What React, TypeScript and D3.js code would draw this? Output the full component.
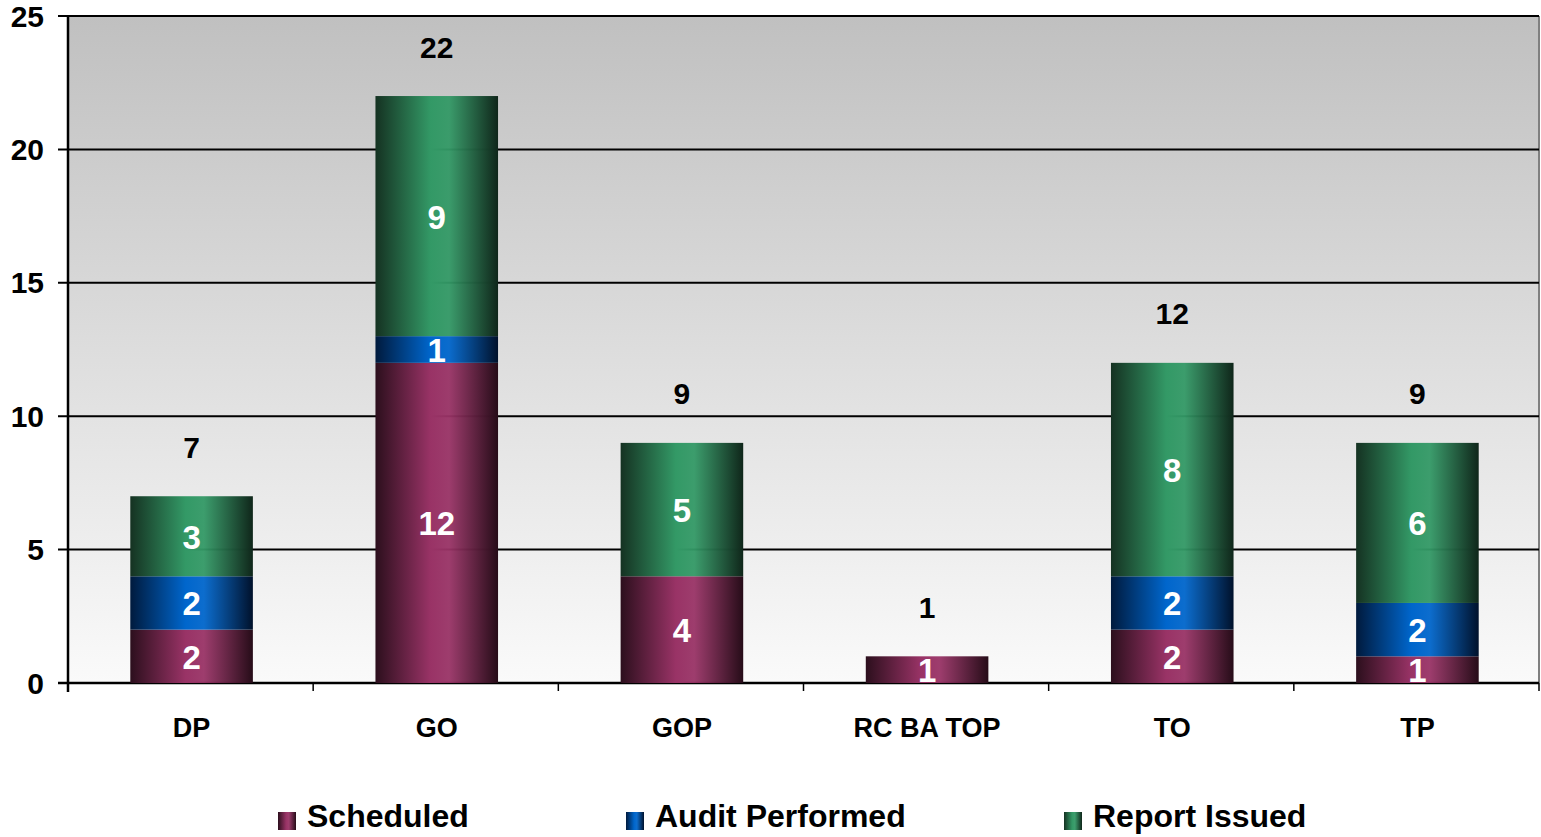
import React from "react";
import * as d3 from "d3";

const categories = ["DP", "GO", "GOP", "RC BA TOP", "TO", "TP"];
const scheduled = [2, 12, 4, 1, 2, 1];
const auditPerformed = [2, 1, 0, 0, 2, 2];
const reportIssued = [3, 9, 5, 0, 8, 6];
const seriesNames = ["Scheduled", "Audit Performed", "Report Issued"];
const yTicks = [0, 5, 10, 15, 20, 25];

const W = 1541;
const H = 837;
const M = { left: 68, right: 1539, top: 16, bottom: 683 };
const FONT = "'Liberation Sans', Arial, Helvetica, sans-serif";

const palette = [
  { id: "gSched", edgeL: "#2c0f1d", mid: "#993366", edgeR: "#260c18" },
  { id: "gAudit", edgeL: "#001a3d", mid: "#0066cc", edgeR: "#00112b" },
  { id: "gReport", edgeL: "#153222", mid: "#339966", edgeR: "#0f261a" },
];

export default function App() {
  const x = d3.scaleBand<string>().domain(categories).range([M.left, M.right]).paddingInner(0.5).paddingOuter(0.25);
  const xb = d3.scaleBand<string>().domain(categories).range([M.left, M.right]);
  const y = d3.scaleLinear().domain([0, 25]).range([M.bottom, M.top]);

  const rows = categories.map((c, i) => ({
    cat: c,
    Scheduled: scheduled[i],
    "Audit Performed": auditPerformed[i],
    "Report Issued": reportIssued[i],
  }));
  const stack = d3.stack<any>().keys(seriesNames)(rows);
  const totals = categories.map((_, i) => scheduled[i] + auditPerformed[i] + reportIssued[i]);

  const legendX = [278, 626, 1064];
  const bx = (c: string) => x(c)! + 1;

  return (
    <svg width={W} height={H} style={{ position: "absolute", left: 0, top: 0, background: "#fff" }}>
      <defs>
        <linearGradient id="plotBg" x1="0" y1="0" x2="0" y2="1">
          <stop offset="0%" stopColor="#c0c0c0" />
          <stop offset="100%" stopColor="#fafafa" />
        </linearGradient>
        {palette.map((p) => (
          <linearGradient key={p.id} id={p.id} x1="0" y1="0" x2="1" y2="0">
            <stop offset="0%" stopColor={p.edgeL} />
            <stop offset="45%" stopColor={p.mid} />
            <stop offset="60%" stopColor={p.mid} stopOpacity={0.95} />
            <stop offset="100%" stopColor={p.edgeR} />
          </linearGradient>
        ))}
      </defs>

      <rect x={M.left} y={M.top} width={M.right - M.left} height={M.bottom - M.top} fill="url(#plotBg)" />
      <line x1={M.right} x2={M.right} y1={M.top} y2={M.bottom} stroke="#808080" strokeWidth={2} />

      {yTicks.map((t) => (
        <g key={t}>
          <line x1={M.left - 10} x2={M.right} y1={y(t)} y2={y(t)} stroke="#000" strokeWidth={t === 0 ? 2.5 : 2} />
          <text x={44} y={y(t)} textAnchor="end" dominantBaseline="central" fontFamily={FONT} fontWeight="bold" fontSize={30}>
            {t}
          </text>
        </g>
      ))}

      {categories.map((c) => (
        <line key={c} x1={xb(c)!} x2={xb(c)!} y1={M.bottom} y2={M.bottom + 8} stroke="#000" strokeWidth={1.5} />
      ))}
      <line x1={M.right} x2={M.right} y1={M.bottom} y2={M.bottom + 8} stroke="#000" strokeWidth={1.5} />

      {stack.map((s, si) => (
        <g key={s.key}>
          {s.map((d, i) => {
            const v = d[1] - d[0];
            if (v <= 0) return null;
            const cx = bx(categories[i]) + x.bandwidth() / 2;
            return (
              <g key={i}>
                <rect x={bx(categories[i])} y={y(d[1])} width={x.bandwidth()} height={y(d[0]) - y(d[1])} fill={`url(#${palette[si].id})`} />
                <text x={cx} y={(y(d[0]) + y(d[1])) / 2 + 1} textAnchor="middle" dominantBaseline="central" fill="#fff" fontFamily={FONT} fontWeight="bold" fontSize={33}>
                  {v}
                </text>
              </g>
            );
          })}
        </g>
      ))}

      <line x1={M.left} x2={M.left} y1={M.top} y2={M.bottom + 9} stroke="#000" strokeWidth={2.5} />

      {categories.map((c, i) => (
        <g key={c}>
          <text x={bx(c) + x.bandwidth() / 2} y={y(totals[i]) - 49} textAnchor="middle" dominantBaseline="central" fontFamily={FONT} fontWeight="bold" fontSize={30}>
            {totals[i]}
          </text>
          <text x={bx(c) + x.bandwidth() / 2} y={728} textAnchor="middle" dominantBaseline="central" fontFamily={FONT} fontWeight="bold" fontSize={27}>
            {c}
          </text>
        </g>
      ))}

      {seriesNames.map((n, i) => (
        <g key={n}>
          <rect x={legendX[i]} y={812} width={18} height={18} fill={`url(#${palette[i].id})`} />
          <text x={legendX[i] + 29} y={816} dominantBaseline="central" fontFamily={FONT} fontWeight="bold" fontSize={32}>
            {n}
          </text>
        </g>
      ))}
    </svg>
  );
}
